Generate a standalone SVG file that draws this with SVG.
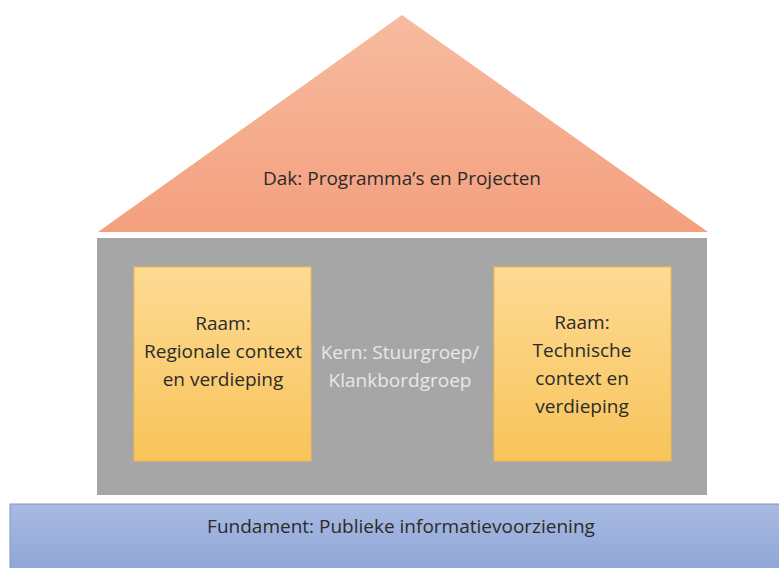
<svg xmlns="http://www.w3.org/2000/svg" width="779" height="568" viewBox="0 0 779 568">
<defs>
<linearGradient id="roofG" x1="0" y1="0" x2="0" y2="1">
<stop offset="0" stop-color="#f7bb9f"/>
<stop offset="1" stop-color="#f4a07f"/>
</linearGradient>
<linearGradient id="winG" x1="0" y1="0" x2="0" y2="1">
<stop offset="0" stop-color="#fdda94"/>
<stop offset="1" stop-color="#f8c45a"/>
</linearGradient>
<linearGradient id="baseG" x1="0" y1="0" x2="0" y2="1">
<stop offset="0" stop-color="#a8bae2"/>
<stop offset="1" stop-color="#8ea5d6"/>
</linearGradient>
</defs>
<style>
text{font-family:"Open Sans","Liberation Sans",sans-serif;font-size:19px;text-anchor:middle}
.dark{fill:#2b2b2b}
.light{fill:#e8e8e8}
.win{fill:url(#winG);stroke:#f2b94c;stroke-width:1}
</style>
<rect width="779" height="568" fill="#ffffff"/>
<g id="roof">
<polygon points="402,15 98,232 708,232" fill="url(#roofG)"/>
<text class="dark" x="402" y="185">Dak: Programma’s en Projecten</text>
</g>
<g id="core">
<rect x="97" y="238" width="610" height="257" fill="#a6a6a6"/>
<text class="light" x="400" y="359">Kern: Stuurgroep/</text>
<text class="light" x="400" y="387">Klankbordgroep</text>
</g>
<g id="window-left">
<rect class="win" x="134" y="267" width="177" height="194"/>
<text class="dark" x="223" y="330">Raam:</text>
<text class="dark" x="223" y="358">Regionale context</text>
<text class="dark" x="223" y="386">en verdieping</text>
</g>
<g id="window-right">
<rect class="win" x="494" y="267" width="177" height="194"/>
<text class="dark" x="582" y="329">Raam:</text>
<text class="dark" x="582" y="357">Technische</text>
<text class="dark" x="582" y="385">context en</text>
<text class="dark" x="582" y="413">verdieping</text>
</g>
<g id="foundation">
<rect x="10" y="504" width="775" height="70" fill="url(#baseG)" stroke="#7f98cc" stroke-width="1"/>
<text class="dark" x="401" y="533">Fundament: Publieke informatievoorziening</text>
</g>
<g id="connectors"/>
</svg>
